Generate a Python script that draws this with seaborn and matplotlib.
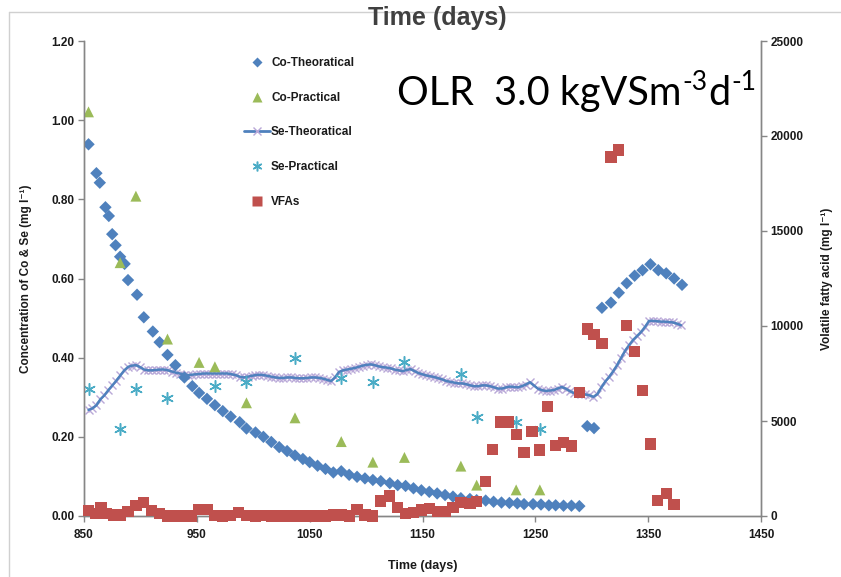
import numpy as np
import pandas as pd
import matplotlib
matplotlib.use("Agg")
import matplotlib.pyplot as plt
from matplotlib.lines import Line2D
import seaborn as sns

# ---------------- data ----------------
co_theor_days = [854, 861, 864, 869, 872, 875, 878, 882, 886, 889, 897, 903,
                 911, 917, 924, 931, 939, 946, 952, 959, 966, 973, 980, 988,
                 994, 1002, 1009, 1016, 1023, 1030, 1037, 1044, 1050,
                 1057, 1064, 1071, 1078, 1085, 1092, 1099, 1106, 1113, 1121,
                 1128, 1135, 1142, 1149, 1156, 1163, 1170, 1177, 1184, 1192,
                 1198, 1206, 1213, 1220, 1227, 1234, 1240, 1248, 1255, 1262,
                 1268, 1275, 1282, 1289,
                 1296, 1302,
                 1309, 1317, 1324, 1331, 1338, 1345, 1352, 1359, 1366, 1373, 1380]
co_theor = [0.939, 0.866, 0.842, 0.780, 0.758, 0.712, 0.684, 0.655, 0.637, 0.596, 0.559, 0.502,
            0.466, 0.439, 0.407, 0.381, 0.350, 0.328, 0.311, 0.296, 0.280, 0.265, 0.251, 0.237,
            0.221, 0.211, 0.200, 0.187, 0.174, 0.164, 0.153, 0.144, 0.136,
            0.127, 0.119, 0.110, 0.113, 0.104, 0.099, 0.095, 0.091, 0.088, 0.083,
            0.078, 0.076, 0.070, 0.065, 0.061, 0.057, 0.053, 0.049, 0.045, 0.043,
            0.040, 0.039, 0.036, 0.034, 0.033, 0.032, 0.030, 0.030, 0.029, 0.027,
            0.027, 0.026, 0.026, 0.025,
            0.227, 0.222,
            0.526, 0.539, 0.564, 0.588, 0.607, 0.621, 0.636, 0.621, 0.613, 0.600, 0.584]

co_prac_days = [854, 882, 896, 924, 952, 966, 994, 1037, 1078, 1106, 1134, 1184, 1198, 1233, 1254]
co_prac = [1.021, 0.640, 0.808, 0.447, 0.388, 0.377, 0.286, 0.248, 0.188, 0.136, 0.148,
           0.126, 0.078, 0.066, 0.066]

se_prac_days = [854, 882, 896, 924, 966, 994, 1037, 1078, 1106, 1134, 1184, 1198, 1233, 1254]
se_prac = [0.320, 0.219, 0.320, 0.299, 0.328, 0.339, 0.400, 0.348, 0.339, 0.390, 0.360,
           0.249, 0.238, 0.220]

se_theor = [0.268, 0.272, 0.280, 0.295, 0.305, 0.318, 0.330, 0.342, 0.355, 0.368,
            0.377, 0.380, 0.381, 0.376, 0.370, 0.368, 0.368, 0.369, 0.370, 0.370,
            0.368, 0.365, 0.362, 0.360, 0.357, 0.356, 0.357, 0.358, 0.359, 0.360,
            0.360, 0.360, 0.360, 0.360, 0.360, 0.360, 0.358, 0.356, 0.352, 0.350,
            0.352, 0.354, 0.356, 0.357, 0.356, 0.354, 0.352, 0.350, 0.349, 0.349,
            0.350, 0.350, 0.349, 0.348, 0.348, 0.349, 0.350, 0.350, 0.349, 0.347,
            0.344, 0.341, 0.350, 0.364, 0.368, 0.370, 0.372, 0.374, 0.377, 0.380,
            0.382, 0.383, 0.381, 0.378, 0.376, 0.375, 0.373, 0.370, 0.368, 0.366,
            0.369, 0.371, 0.366, 0.361, 0.358, 0.355, 0.353, 0.351, 0.348, 0.345,
            0.341, 0.339, 0.337, 0.335, 0.335, 0.333, 0.330, 0.328, 0.328, 0.330,
            0.330, 0.328, 0.325, 0.322, 0.322, 0.325, 0.327, 0.326, 0.325, 0.328,
            0.332, 0.338, 0.330, 0.322, 0.318, 0.316, 0.317, 0.318, 0.322, 0.326,
            0.322, 0.316, 0.311, 0.310, 0.309, 0.307, 0.305, 0.301, 0.308, 0.325,
            0.340, 0.352, 0.366, 0.382, 0.400, 0.418, 0.432, 0.445, 0.455, 0.465,
            0.478, 0.493, 0.493, 0.492, 0.491, 0.491, 0.490, 0.489, 0.486, 0.482]
se_theor_days = list(np.linspace(854, 1379, len(se_theor)))

vfa_days = [854, 860, 865, 870, 876, 882, 889, 896, 903, 910, 917, 924, 931, 938, 945,
            952, 959, 966, 973, 980, 987, 994, 1002, 1008, 1016, 1023, 1030, 1037, 1044, 1050,
            1057, 1064, 1071, 1078, 1085, 1092, 1099, 1106, 1113, 1121, 1128, 1135, 1142,
            1149, 1156, 1163, 1170, 1177, 1184, 1192, 1198, 1206, 1212, 1219, 1226, 1233,
            1240, 1247, 1254, 1261, 1268, 1275, 1282, 1289, 1296, 1302, 1309, 1317, 1324,
            1331, 1338, 1345, 1352, 1358, 1366, 1373]
vfa = [300, 150, 420, 130, 60, 60, 230, 560, 700, 280, 150, 0, 0, 0, 0,
       340, 330, 30, 0, 30, 200, 30, 0, 30, 0, 0, 0, 0, 0, 0,
       0, 0, 50, 50, 0, 350, 50, 0, 790, 1050, 460, 140, 190,
       320, 400, 230, 230, 460, 700, 670, 750, 1800, 3510, 4950, 4950, 4300,
       3350, 4440, 3470, 5750, 3700, 3880, 3680, 6490, 9840, 9560, 9090, 18900, 19260,
       10020, 8650, 6600, 3790, 810, 1190, 615]

x_ticks = [850, 950, 1050, 1150, 1250, 1350, 1450]
y_ticks = [0.0, 0.2, 0.4, 0.6, 0.8, 1.0, 1.2]
y2_ticks = [0, 5000, 10000, 15000, 20000, 25000]

# ---------------- style ----------------
sns.set_style("white")
plt.rcParams['font.family'] = ['Liberation Sans', 'DejaVu Sans']

BLUE = '#4F81BD'
GREEN = '#9BBB59'
PURPLE = '#B9A8D8'
CYAN = '#4BACC6'
RED = '#C0504D'
GREY = '#868686'

fig = plt.figure(figsize=(8.41, 5.77), dpi=100)
ax = fig.add_axes([84/841, 1-516/577, (761-84)/841, (516-41)/577])
ax2 = ax.twinx()

df_ct = pd.DataFrame({'day': co_theor_days, 'val': co_theor})
df_cp = pd.DataFrame({'day': co_prac_days, 'val': co_prac})
df_st = pd.DataFrame({'day': se_theor_days, 'val': se_theor})
df_sp = pd.DataFrame({'day': se_prac_days, 'val': se_prac})
df_v = pd.DataFrame({'day': vfa_days, 'val': vfa})

# Se-Theoretical: markers first, then line on top
sns.lineplot(data=df_st, x='day', y='val', ax=ax, linestyle='', lw=0,
             marker='x', markersize=5.5, markeredgecolor=PURPLE, markeredgewidth=1,
             zorder=3)
sns.lineplot(data=df_st, x='day', y='val', ax=ax, color=BLUE, lw=1.8, zorder=3.5)
sns.scatterplot(data=df_ct, x='day', y='val', ax=ax, color=BLUE, marker='D',
                s=40, edgecolor='none', zorder=4)
sns.scatterplot(data=df_cp, x='day', y='val', ax=ax, color=GREEN, marker='^',
                s=62, edgecolor='none', zorder=4)
sns.scatterplot(data=df_sp, x='day', y='val', ax=ax, color=CYAN, marker=(6, 2, 0),
                s=70, linewidth=1.1, zorder=4)
sns.scatterplot(data=df_v, x='day', y='val', ax=ax2, color=RED, marker='s',
                s=66, edgecolor='none', zorder=4, clip_on=False)

ax.set_xlim(850, 1450)
ax.set_ylim(0, 1.2)
ax2.set_ylim(0, 25000)
ax.set_xticks(x_ticks)
ax.set_yticks(y_ticks)
ax2.set_yticks(y2_ticks)
ax.set_yticklabels([f"{v:.2f}" for v in y_ticks])
ax2.set_yticklabels([f"{v}" for v in y2_ticks])

for a in (ax, ax2):
    for s in a.spines.values():
        s.set_color(GREY)
        s.set_linewidth(1)
    a.spines['top'].set_visible(False)
    a.tick_params(axis='both', colors=GREY, length=4, width=1, direction='out',
                  labelsize=8.5, labelcolor='#1a1a1a')
    for lbl in a.get_xticklabels() + a.get_yticklabels():
        lbl.set_fontweight('bold')
ax.tick_params(axis='y', left=True, pad=3)
ax.tick_params(axis='x', bottom=True, pad=5)
ax2.tick_params(axis='y', right=True, pad=3)

ax.set_xlabel("Time (days)", fontsize=9, fontweight='bold', color='#1a1a1a', labelpad=14)
ax.set_ylabel("Concentration of Co & Se (mg l⁻¹)", fontsize=8.5, fontweight='bold',
              color='#1a1a1a', labelpad=14)
ax2.set_ylabel("Volatile fatty acid (mg l⁻¹)", fontsize=8.5, fontweight='bold',
               color='#1a1a1a', labelpad=12)

fig.text(437/841, 1-18/577, "Time (days)", fontsize=18, fontweight='bold',
         color='#404040', ha='center', va='center')

# OLR annotation with superscripts built from pieces
W, H = 841, 577
base_y = 105
fig.canvas.draw()
renderer = fig.canvas.get_renderer()
xpos = 397
pieces = [("OLR  3.0 kgVSm", 28.5, 0), ("-3", 19, 15), ("d", 28.5, 0), ("-1", 19, 15)]
for txt, fs, rise in pieces:
    t = fig.text(xpos/W, 1-(base_y-rise)/H, txt, fontsize=fs, family='Lato',
                 color='black', ha='left', va='baseline')
    bb = t.get_window_extent(renderer=renderer)
    xpos += bb.width + 1

# chart area border
fig.add_artist(Line2D([9/841, 1.0], [1-12/577, 1-12/577], transform=fig.transFigure,
                      color='#d0d0d0', lw=1, zorder=0))
fig.add_artist(Line2D([9/841, 9/841], [0, 1-12/577], transform=fig.transFigure,
                      color='#d0d0d0', lw=1, zorder=0))

handles = [
    Line2D([], [], ls='none', marker='D', color=BLUE, markersize=5.5, markeredgecolor='none'),
    Line2D([], [], ls='none', marker='^', color=GREEN, markersize=7, markeredgecolor='none'),
    Line2D([], [], color=BLUE, lw=2, marker='x', markersize=6, markeredgecolor=PURPLE),
    Line2D([], [], ls='none', marker=(6, 2, 0), color=CYAN, markersize=7, markeredgewidth=1.1),
    Line2D([], [], ls='none', marker='s', color=RED, markersize=7, markeredgecolor='none'),
]
labels = ["Co-Theoratical", "Co-Practical", "Se-Theoratical", "Se-Practical", "VFAs"]
leg = fig.legend(handles, labels, loc='upper left', bbox_to_anchor=(238/841, 1-51/577),
                 frameon=False, fontsize=8.5, labelspacing=1.93, handlelength=2.2,
                 handletextpad=0.1, borderpad=0)
for t in leg.get_texts():
    t.set_fontweight('bold')
    t.set_color('#1a1a1a')

fig.savefig("out.png", dpi=100)
